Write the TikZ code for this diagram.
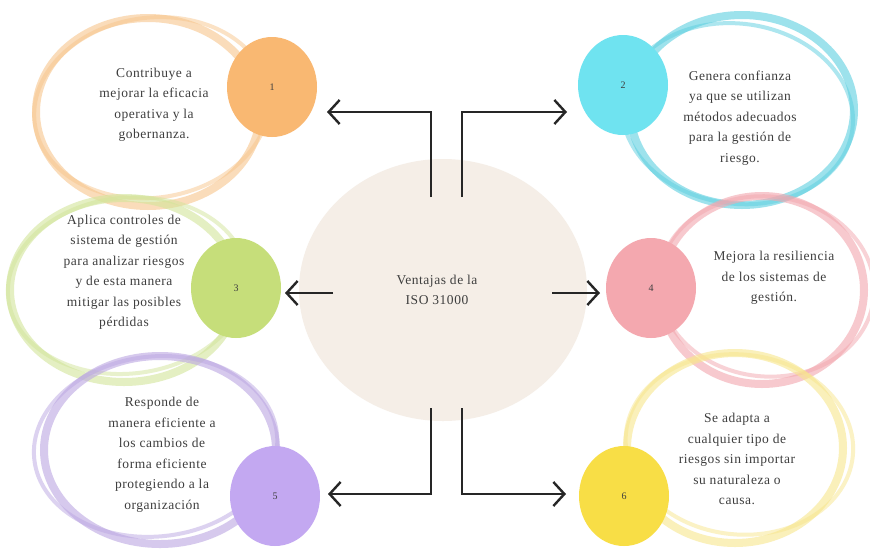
\documentclass[tikz,border=0pt]{standalone}
\usepackage{fontspec}
\setmainfont{Liberation Serif}[LetterSpace=4]
\usetikzlibrary{arrows.meta,shapes.geometric}
\definecolor{txt}{HTML}{3E3E3E}
\definecolor{beige}{HTML}{F5EEE7}
\definecolor{cOr}{HTML}{F9B872}\definecolor{rOr}{HTML}{F8C68C}
\definecolor{cCy}{HTML}{6FE3F0}\definecolor{rCy}{HTML}{5DCFE0}
\definecolor{cGr}{HTML}{C6DE7A}\definecolor{rGr}{HTML}{D2E59A}
\definecolor{cPk}{HTML}{F4A8AF}\definecolor{rPk}{HTML}{F3A6AE}
\definecolor{cPu}{HTML}{C3A8F1}\definecolor{rPu}{HTML}{BBA6E2}
\definecolor{cYe}{HTML}{F8DE46}\definecolor{rYe}{HTML}{F8E68C}
\tikzset{
  ringA/.style={line width=8pt, draw opacity=0.6},
  ringB/.style={line width=4pt, draw opacity=0.5},
  dotnode/.style={ellipse, minimum width=90pt, minimum height=100pt, inner sep=0pt, text=txt, font=\fontsize{10}{10}\selectfont},
  txtnode/.style={align=center, text=txt, font=\fontsize{13.5}{20.5}\selectfont, inner sep=0pt},
  arr/.style={line width=2.4pt, black!85, -{Straight Barb[length=11pt,width=24pt,line width=2.4pt]}}
}
\begin{document}
\begin{tikzpicture}[x=1pt,y=-1pt]
\useasboundingbox (0,0) rectangle (870,550);
\fill[white] (0,0) rectangle (870,550);
% rings
\draw[rOr,ringA] (148,112) ellipse[x radius=112, y radius=94];
\draw[rOr,ringB,rotate around={8:(150,110)}] (152,108) ellipse[x radius=118, y radius=90];
\draw[rCy,ringA] (742,110) ellipse[x radius=112, y radius=95];
\draw[rCy,ringB,rotate around={-8:(740,110)}] (738,114) ellipse[x radius=116, y radius=90];
\draw[rGr,ringA] (124,290) ellipse[x radius=114, y radius=92];
\draw[rGr,ringB,rotate around={6:(124,290)}] (128,286) ellipse[x radius=120, y radius=88];
\draw[rPk,ringA] (762,290) ellipse[x radius=102, y radius=94];
\draw[rPk,ringB,rotate around={-6:(762,290)}] (766,286) ellipse[x radius=108, y radius=90];
\draw[rPu,ringA] (160,450) ellipse[x radius=116, y radius=94];
\draw[rPu,ringB,rotate around={6:(160,450)}] (156,446) ellipse[x radius=122, y radius=90];
\draw[rYe,ringA] (735,448) ellipse[x radius=108, y radius=95];
\draw[rYe,ringB,rotate around={-6:(735,448)}] (739,444) ellipse[x radius=114, y radius=90];
% center
\node[ellipse, fill=beige, minimum width=288pt, minimum height=262pt, inner sep=0pt] (c) at (443,290) {};
\node[txtnode] (ct) at (437,290) {Ventajas de la\\ISO 31000};
% dots
\node[dotnode, fill=cOr] (d1) at (272,87) {1};
\node[dotnode, fill=cCy] (d2) at (623,85) {2};
\node[dotnode, fill=cGr] (d3) at (236,288) {3};
\node[dotnode, fill=cPk] (d4) at (651,288) {4};
\node[dotnode, fill=cPu] (d5) at (275,496) {5};
\node[dotnode, fill=cYe] (d6) at (624,496) {6};
% texts
\node[txtnode] (t1) at (154,105) {Contribuye a\\mejorar la eficacia\\operativa y la\\gobernanza.};
\node[txtnode] (t2) at (740,118) {Genera confianza\\ya que se utilizan\\métodos adecuados\\para la gestión de\\riesgo.};
\node[txtnode] (t3) at (124,272) {Aplica controles de\\sistema de gestión\\para analizar riesgos\\y de esta manera\\mitigar las posibles\\pérdidas};
\node[txtnode] (t4) at (774,278) {Mejora la resiliencia\\de los sistemas de\\gestión.};
\node[txtnode] (t5) at (162,455) {Responde de\\manera eficiente a\\los cambios de\\forma eficiente\\protegiendo a la\\organización};
\node[txtnode] (t6) at (737,459) {Se adapta a\\cualquier tipo de\\riesgos sin importar\\su naturaleza o\\causa.};
% arrows
\coordinate (s1) at (431,197); \coordinate (e1) at (327,112);
\coordinate (s2) at (462,197); \coordinate (e2) at (567,112);
\coordinate (s3) at (333,293); \coordinate (e3) at (285,293);
\coordinate (s4) at (552,293); \coordinate (e4) at (600,293);
\coordinate (s5) at (431,408); \coordinate (e5) at (328,494);
\coordinate (s6) at (462,408); \coordinate (e6) at (566,494);
\draw[arr] (s1) |- (e1);
\draw[arr] (s2) |- (e2);
\draw[arr] (s3) -- (e3);
\draw[arr] (s4) -- (e4);
\draw[arr] (s5) |- (e5);
\draw[arr] (s6) |- (e6);
\end{tikzpicture}
\end{document}
